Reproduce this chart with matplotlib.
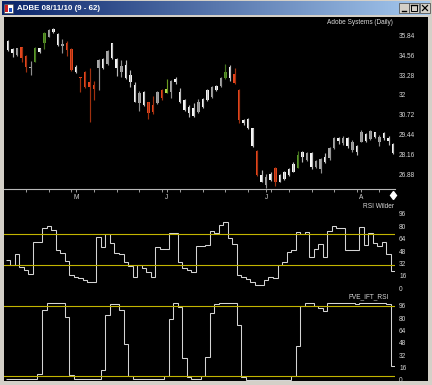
import numpy as np
import pandas as pd
import matplotlib
matplotlib.use("Agg")
import matplotlib.pyplot as plt
from matplotlib.patches import Rectangle
from matplotlib.colors import LinearSegmentedColormap

plt.rcParams['font.family'] = ['Liberation Sans', 'DejaVu Sans']

# ----------------------- DATA -----------------------
dates = pd.bdate_range("2010-04-12", "2010-08-11")
holidays = pd.to_datetime(["2010-05-31", "2010-07-05"])
dates = dates[~dates.isin(holidays)]          # 86 trading days

open_ = [34.89, 34.68, 34.57, 35.07, 34.53, 33.71, 34.14, 34.78, 35.32, 35.75,
         36.07, 35.21, 35.17, 35.32, 34.96, 33.49, 33.13, 33.49, 32.81, 32.64,
         33.71, 33.71, 33.97, 34.36, 33.71, 33.49, 33.07, 32.81, 31.56, 31.46,
         31.35, 31.52, 31.35, 31.46, 32.31, 32.10, 32.20, 32.85, 31.52, 31.02,
         30.81, 30.66, 30.88, 31.24, 31.67, 31.88, 32.31, 32.59, 33.07, 33.07,
         33.33, 32.31, 30.17, 29.84, 28.72, 28.38, 26.40, 26.19, 26.51, 27.27,
         26.40, 26.58, 26.83, 27.05, 27.31, 28.01, 27.80, 27.37, 27.37, 27.22,
         27.65, 27.91, 28.59, 29.03, 28.88, 28.72, 28.45, 28.30, 28.98, 29.03,
         29.16, 29.30, 28.94, 29.20, 29.03, 28.23]
high = [35.54, 35.04, 35.04, 35.10, 34.57, 34.18, 35.10, 35.05, 36.03, 36.25,
        36.29, 35.97, 35.60, 35.47, 35.00, 33.93, 33.17, 33.54, 33.71, 32.89,
        34.29, 34.36, 34.89, 35.32, 34.36, 34.25, 34.25, 33.60, 32.85, 32.27,
        32.25, 31.56, 31.95, 32.25, 32.38, 33.00, 32.96, 33.17, 32.42, 31.73,
        31.35, 31.46, 31.73, 31.78, 32.36, 32.59, 32.64, 33.17, 33.97, 33.93,
        33.75, 32.36, 30.44, 30.53, 29.88, 28.45, 27.16, 26.88, 27.05, 27.37,
        26.88, 27.09, 27.27, 27.65, 28.38, 28.38, 28.30, 28.34, 27.80, 27.91,
        28.23, 28.66, 29.30, 29.30, 29.37, 29.30, 29.09, 28.77, 29.74, 29.52,
        29.74, 29.63, 29.41, 29.59, 29.37, 28.88]
low = [34.83, 34.46, 34.53, 34.14, 33.49, 33.28, 34.10, 34.73, 34.96, 35.71,
       35.97, 35.17, 34.68, 34.51, 33.56, 33.39, 32.20, 32.42, 30.27, 31.67,
       32.31, 33.67, 33.93, 34.31, 33.24, 33.17, 33.02, 32.53, 31.52, 30.96,
       31.30, 30.44, 30.75, 31.41, 31.67, 32.10, 31.82, 32.68, 31.46, 30.98,
       30.59, 30.59, 30.81, 31.13, 31.60, 31.82, 32.25, 32.53, 33.02, 32.89,
       32.68, 30.17, 30.06, 29.80, 28.66, 26.79, 26.36, 25.98, 26.45, 26.15,
       26.36, 26.51, 26.79, 27.01, 27.27, 27.69, 27.74, 27.22, 27.31, 26.94,
       27.59, 27.80, 28.51, 28.81, 28.77, 28.59, 28.34, 28.12, 28.94, 28.94,
       29.09, 29.20, 28.72, 29.09, 28.77, 28.19]
close = [35.47, 34.94, 35.00, 34.36, 33.82, 33.82, 35.04, 35.00, 35.97, 36.18,
         36.23, 35.90, 35.28, 34.89, 33.60, 33.82, 33.07, 32.53, 32.53, 32.38,
         34.25, 34.31, 34.83, 35.32, 34.31, 33.88, 33.93, 33.28, 32.64, 32.10,
         32.20, 30.81, 30.88, 32.20, 31.82, 32.36, 32.89, 33.02, 32.20, 31.67,
         31.24, 31.13, 31.52, 31.73, 32.31, 32.53, 32.57, 33.07, 33.49, 33.82,
         32.75, 30.38, 30.38, 30.44, 29.84, 26.83, 26.83, 26.73, 26.88, 26.36,
         26.83, 27.05, 27.20, 27.52, 28.12, 28.30, 28.23, 28.23, 27.74, 27.87,
         28.01, 28.59, 29.24, 29.20, 29.24, 29.20, 28.98, 28.72, 29.63, 29.46,
         29.67, 29.59, 29.30, 29.52, 29.24, 28.81]
# paint bar colour code: W white, G gray, R red, g green, y yellow-green
bar_colour = list("WWGRRGgWgG" "WWGRRWRRRR" "GWGWWGWWWG" "WRRGRyGWWW"
                  "WWGWWGWGgW" "RRWWWRWGWR" "WWWWgWGWGG" "WGGWGWGWGW" "GWGWWW")

rsi_wilder = [36.6, 30.0, 44.3, 28.0, 23.6, 18.5, 59.4, 59.4, 77.5, 80.5,
              75.3, 49.0, 45.0, 35.7, 17.2, 15.0, 12.9, 10.7, 8.6, 8.6,
              65.9, 53.8, 69.8, 58.0, 46.0, 44.3, 34.4, 28.8, 15.0, 30.0,
              25.8, 21.5, 15.0, 53.8, 50.4, 50.4, 71.0, 71.0, 34.4, 25.8,
              23.2, 20.6, 55.0, 55.0, 56.0, 74.4, 72.0, 81.8, 86.0, 64.6,
              57.0, 17.2, 15.0, 12.0, 8.6, 4.3, 4.3, 10.7, 14.2, 13.0,
              30.0, 34.4, 47.3, 49.5, 73.0, 69.8, 73.0, 40.8, 50.4, 57.2,
              40.0, 74.4, 80.5, 77.5, 77.5, 49.5, 49.5, 49.5, 79.6, 55.9,
              71.0, 58.9, 54.6, 60.2, 44.3, 22.7]
fve_ift_rsi = [0.9, 0.9, 0.9, 0.9, 0.9, 0.9, 0.9, 7.8, 90.4, 99.9,
               99.9, 99.9, 99.9, 81.8, 6.5, 0.9, 0.9, 0.9, 0.9, 0.9,
               0.9, 13.0, 84.0, 98.2, 98.2, 90.4, 46.0, 5.2, 0.9, 0.9,
               0.9, 0.9, 0.9, 0.9, 0.9, 5.2, 78.4, 99.0, 93.9, 28.0,
               4.3, 0.9, 0.9, 5.0, 30.0, 87.0, 98.2, 99.9, 99.9, 99.9,
               99.9, 71.0, 4.3, 0.0, 0.0, 0.0, 0.0, 0.0, 0.0, 0.0,
               0.0, 0.0, 0.0, 5.0, 43.9, 95.6, 99.9, 99.9, 95.6, 92.6,
               89.5, 99.0, 99.9, 99.9, 99.9, 99.9, 99.9, 98.5, 99.9, 99.9,
               99.9, 99.9, 99.9, 99.9, 98.0, 18.0]

rsi_levels  = [30, 70]
fve_levels  = [5, 95]
price_ticks = [26.88, 28.16, 29.44, 30.72, 32.0, 33.28, 34.56, 35.84]
osc_ticks   = [0, 16, 32, 48, 64, 80, 96]
# ----------------------------------------------------

W, H = 432, 385
def px_rect(x0, y0, x1, y1):
    return [x0 / W, 1 - y1 / H, (x1 - x0) / W, (y1 - y0) / H]

body_cols = {"W": "#F8F8F8", "G": "#A8A8A8", "R": "#E8461E", "g": "#5C9A2A", "y": "#B8E04A"}
wick_cols = {"W": "#B8B8B8", "G": "#909090", "R": "#A0300F", "g": "#44741E", "y": "#6A9A20"}
txt_col = "#D8D8D8"
lvl_col = "#C2B400"
line_col = "#D4D4D4"
fs = 4.7

fig = plt.figure(figsize=(W / 100, H / 100), dpi=100, facecolor="#D4D0C8")

# --- window chrome (pixel coordinates) ---
bg = fig.add_axes([0, 0, 1, 1])
tb_cmap = LinearSegmentedColormap.from_list("tb", ["#0A246A", "#A6CAF0"])
bg.imshow(np.linspace(0, 1, 256)[None, :], extent=(2, 430, 15.5, 1.5),
          cmap=tb_cmap, aspect="auto", interpolation="bilinear")
bg.add_patch(Rectangle((4, 17), 424, 364, facecolor="black", edgecolor="none"))
bg.add_patch(Rectangle((3.5, 3.5), 9.5, 9.5, facecolor="white", edgecolor="#404040", lw=0.4))
bg.add_patch(Rectangle((5, 5), 3, 6.5, facecolor="#D02020", edgecolor="none"))
bg.add_patch(Rectangle((8.5, 8), 3, 3.5, facecolor="#2050C0", edgecolor="none"))
for bx in [398.5, 408.5, 420.0]:
    bg.add_patch(Rectangle((bx, 3), 10, 10, facecolor="#D4D0C8", edgecolor="#404040", lw=0.5))
bg.plot([401.5, 405.5], [10.5, 10.5], color="black", lw=1.0)
bg.add_patch(Rectangle((411, 5), 5.5, 5.5, facecolor="none", edgecolor="black", lw=0.7))
bg.plot([411, 416.5], [5.3, 5.3], color="black", lw=1.0)
bg.plot([422.5, 427.5], [5.5, 10.5], color="black", lw=0.9)
bg.plot([422.5, 427.5], [10.5, 5.5], color="black", lw=0.9)
bg.text(17, 8.6, "ADBE 08/11/10 (9 - 62)", color="white", fontsize=5.7,
        fontweight="bold", ha="left", va="center")
bg.text(393, 22.5, "Adobe Systems (Daily)", color=txt_col, fontsize=fs, ha="right", va="center")
bg.text(394, 206, "RSI Wilder", color=txt_col, fontsize=fs, ha="right", va="center")
bg.text(389, 296.5, "FVE_IFT_RSI", color=txt_col, fontsize=fs, ha="right", va="center")
bg.set_xlim(0, W)
bg.set_ylim(H, 0)
bg.axis("off")

x = np.arange(len(dates))
xlim = ((4 - 8) / 4.53, (395 - 8) / 4.53)

def style_panel(ax, ticks, labels):
    ax.set_facecolor("none")
    for s in ax.spines.values():
        s.set_visible(False)
    ax.set_xlim(*xlim)
    ax.yaxis.tick_right()
    ax.set_yticks(ticks, labels=labels)
    ax.tick_params(axis="y", length=0, pad=2.9, labelsize=fs, labelcolor=txt_col)

# --- price panel ---
axp = fig.add_axes(px_rect(4, 18, 395, 189))
style_panel(axp, price_ticks, [f"{v:g}" for v in price_ticks])
axp.set_ylim(38.115 - 0.06446 * 189, 38.115 - 0.06446 * 18)

o = np.array(open_); c = np.array(close)
bottoms = np.minimum(o, c)
heights = np.maximum(np.abs(c - o), 0.08)
axp.vlines(x, low, high, colors=[wick_cols[k] for k in bar_colour], lw=0.85)
axp.bar(x, heights, bottom=bottoms, width=0.56,
        color=[body_cols[k] for k in bar_colour], linewidth=0)

axp.spines["bottom"].set_visible(True)
axp.spines["bottom"].set_color("#B8B8B8")
axp.spines["bottom"].set_linewidth(0.8)
month_pos = [i for i in range(1, len(dates)) if dates[i].month != dates[i - 1].month]
week_pos = [i for i in range(len(dates)) if dates[i].weekday() == 4]
axp.set_xticks(month_pos, labels=[dates[i].strftime("%b")[0] for i in month_pos])
axp.set_xticks(week_pos, minor=True)
axp.tick_params(axis="x", which="both", length=2, width=0.6, color="#B8B8B8",
                labelsize=fs, labelcolor=txt_col, pad=1.5)
axp.plot([x[-1]], [38.115 - 0.06446 * 194.5], marker="d", markersize=4.5,
         color="white", clip_on=False)

# --- RSI Wilder panel ---
axr = fig.add_axes(px_rect(4, 200, 395, 290))
style_panel(axr, osc_ticks, [str(v) for v in osc_ticks])
axr.set_ylim((288.3 - 290) / 0.774, (288.3 - 200) / 0.774)
axr.set_xticks([])
for lv in rsi_levels:
    axr.axhline(lv, color=lvl_col, lw=0.8)
axr.stairs(rsi_wilder, np.arange(len(rsi_wilder) + 1) - 0.5, baseline=None,
           color=line_col, lw=0.75)

# --- FVE_IFT_RSI panel ---
axf = fig.add_axes(px_rect(4, 290, 395, 381))
style_panel(axf, osc_ticks, [str(v) for v in osc_ticks])
axf.set_ylim((380 - 381) / 0.774, (380 - 290) / 0.774)
axf.set_xticks([])
for lv in fve_levels:
    axf.axhline(lv, color=lvl_col, lw=0.8)
axf.stairs(fve_ift_rsi, np.arange(len(fve_ift_rsi) + 1) - 0.5, baseline=None,
           color=line_col, lw=0.75)

fig.savefig("out.png", dpi=100, facecolor=fig.get_facecolor())
